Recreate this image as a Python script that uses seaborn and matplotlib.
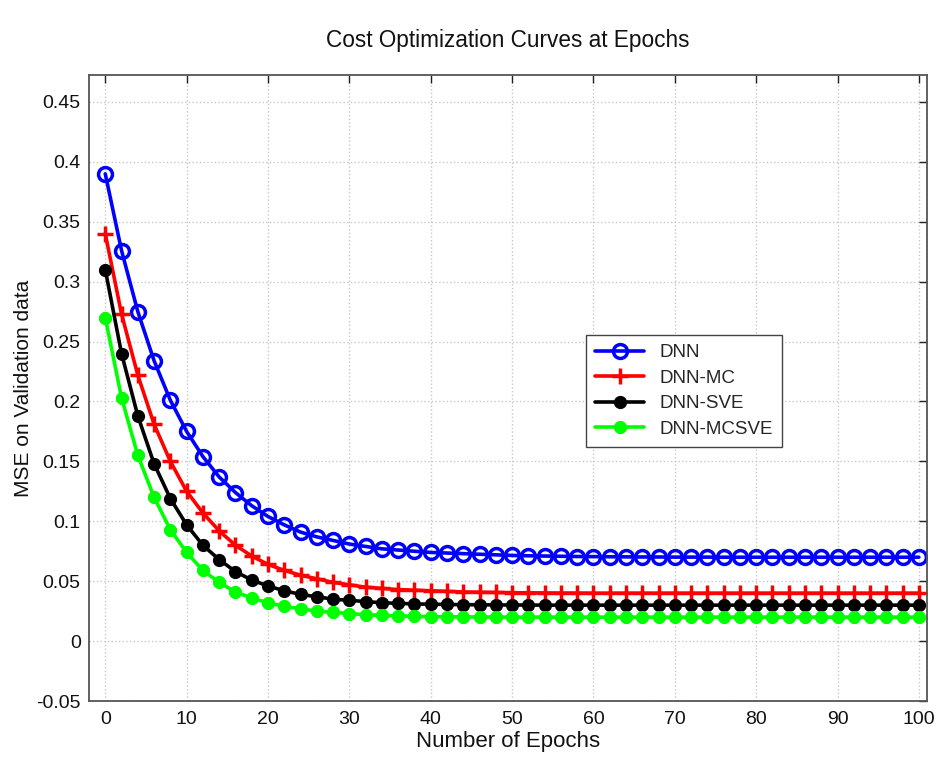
import matplotlib
matplotlib.use("Agg")
import matplotlib.pyplot as plt
import seaborn as sns
import pandas as pd

# Validation MSE sampled every 2 epochs
epochs = list(range(0, 101, 2))

dnn = [0.390, 0.326, 0.275, 0.234, 0.201, 0.175, 0.154, 0.137, 0.124, 0.113,
       0.104, 0.097, 0.091, 0.087, 0.084, 0.081, 0.079, 0.077, 0.076, 0.075,
       0.074, 0.0735, 0.073, 0.0725, 0.072, 0.0715, 0.0712, 0.071, 0.0708, 0.0706,
       0.0705, 0.0704, 0.0703, 0.0702, 0.0702, 0.0701, 0.0701, 0.0701, 0.070, 0.070,
       0.070, 0.070, 0.070, 0.070, 0.070, 0.070, 0.070, 0.070, 0.070, 0.070, 0.070]

dnn_mc = [0.340, 0.273, 0.222, 0.181, 0.150, 0.125, 0.107, 0.092, 0.080, 0.071,
          0.064, 0.059, 0.055, 0.052, 0.049, 0.047, 0.045, 0.044, 0.043, 0.0425,
          0.042, 0.0415, 0.041, 0.0408, 0.0406, 0.0404, 0.0403, 0.0402, 0.0401, 0.0401,
          0.040, 0.040, 0.040, 0.040, 0.040, 0.040, 0.040, 0.040, 0.040, 0.040,
          0.040, 0.040, 0.040, 0.040, 0.040, 0.040, 0.040, 0.040, 0.040, 0.040, 0.040]

dnn_sve = [0.310, 0.240, 0.188, 0.148, 0.119, 0.097, 0.080, 0.068, 0.058, 0.051,
           0.046, 0.042, 0.039, 0.037, 0.035, 0.034, 0.033, 0.032, 0.0315, 0.031,
           0.0308, 0.0306, 0.0304, 0.0303, 0.0302, 0.0301, 0.0301, 0.030, 0.030, 0.030,
           0.030, 0.030, 0.030, 0.030, 0.030, 0.030, 0.030, 0.030, 0.030, 0.030,
           0.030, 0.030, 0.030, 0.030, 0.030, 0.030, 0.030, 0.030, 0.030, 0.030, 0.030]

dnn_mcsve = [0.270, 0.203, 0.155, 0.120, 0.093, 0.074, 0.059, 0.049, 0.041, 0.036,
             0.032, 0.029, 0.027, 0.025, 0.024, 0.023, 0.022, 0.0215, 0.021, 0.0207,
             0.0205, 0.0203, 0.0202, 0.0201, 0.0201, 0.020, 0.020, 0.020, 0.020, 0.020,
             0.020, 0.020, 0.020, 0.020, 0.020, 0.020, 0.020, 0.020, 0.020, 0.020,
             0.020, 0.020, 0.020, 0.020, 0.020, 0.020, 0.020, 0.020, 0.020, 0.020, 0.020]

series_names = ["DNN", "DNN-MC", "DNN-SVE", "DNN-MCSVE"]
x_ticks = [0, 10, 20, 30, 40, 50, 60, 70, 80, 90, 100]
y_ticks = [-0.05, 0, 0.05, 0.1, 0.15, 0.2, 0.25, 0.3, 0.35, 0.4, 0.45]
y_tick_labels = ["-0.05", "0", "0.05", "0.1", "0.15", "0.2", "0.25", "0.3", "0.35", "0.4", "0.45"]

sns.set_theme(style="white")
plt.rcParams["font.family"] = ["Liberation Sans", "DejaVu Sans"]

frames = []
for name, vals in zip(series_names, [dnn, dnn_mc, dnn_sve, dnn_mcsve]):
    frames.append(pd.DataFrame({"epoch": epochs, "mse": vals, "model": name}))
df = pd.concat(frames, ignore_index=True)

styles = {
    "DNN": dict(color="#0000ff", marker="o", markersize=10, markerfacecolor="none",
                markeredgewidth=2.5),
    "DNN-MC": dict(color="#ff0000", marker="+", markersize=11, markeredgewidth=2.5),
    "DNN-SVE": dict(color="#000000", marker="o", markersize=8, markerfacecolor="#000000",
                    markeredgewidth=1.5),
    "DNN-MCSVE": dict(color="#00ff00", marker=(8, 2, 0), markersize=9,
                      markeredgewidth=3),
}

fig = plt.figure(figsize=(9.36, 7.58), dpi=100)
ax = fig.add_axes([89 / 936, 1 - 701 / 758, 838 / 936, 626 / 758])

for name in series_names:
    sub = df[df["model"] == name]
    st = styles[name]
    sns.lineplot(data=sub, x="epoch", y="mse", ax=ax, label=name,
                 linewidth=2.6, color=st["color"],
                 marker=st["marker"], markersize=st["markersize"],
                 markerfacecolor=st.get("markerfacecolor", st["color"]),
                 markeredgecolor=st["color"], markeredgewidth=st["markeredgewidth"],
                 errorbar=None)

ax.set_xlim(-2, 101)
ax.set_ylim(-0.05, 0.4725)
ax.set_xticks(x_ticks)
ax.set_yticks(y_ticks)
ax.set_yticklabels(y_tick_labels)
ax.tick_params(direction="in", length=6, width=1, top=True, right=True,
               labelsize=14, colors="#222222", pad=6)
ax.tick_params(axis="x", pad=7)
ax.tick_params(axis="both", labelcolor="#111111")

ax.grid(True, linestyle=":", color="#c8c8c8", linewidth=1)
for sp in ax.spines.values():
    sp.set_color("#555555")
    sp.set_linewidth(1.3)

ax.set_title("Cost Optimization Curves at Epochs", fontsize=16.3, pad=20, color="#111111")
ax.set_xlabel("Number of Epochs", fontsize=16, labelpad=2, color="#111111")
ax.set_ylabel("MSE on Validation data", fontsize=15, labelpad=2, color="#111111")

leg = ax.legend(loc="upper left", bbox_to_anchor=(0.593, 0.585), fontsize=13.5,
                frameon=True, fancybox=False, framealpha=1, edgecolor="#444444",
                handlelength=2.6, borderpad=0.5, labelspacing=0.45,
                borderaxespad=0)
leg.get_frame().set_linewidth(1.0)

fig.savefig("out.png", dpi=100)
